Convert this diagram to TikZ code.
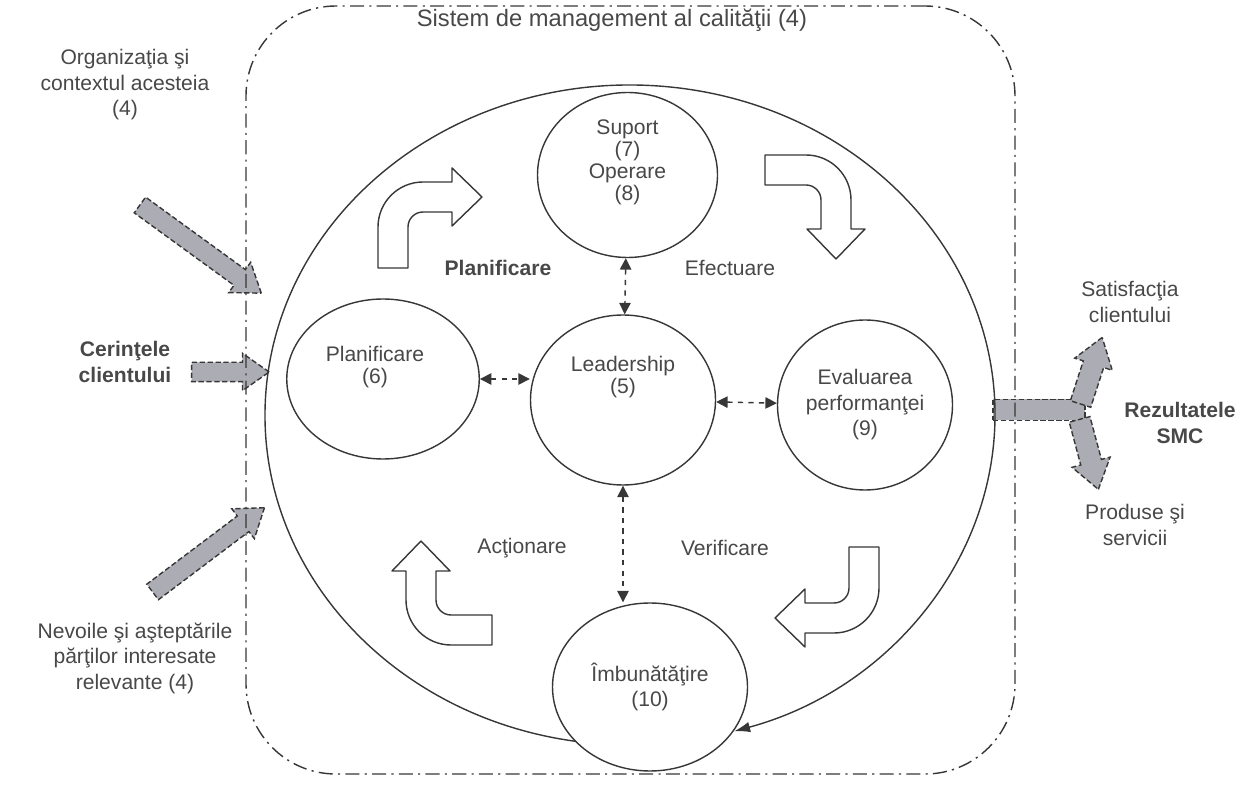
\documentclass[tikz,border=0pt]{standalone}
\usepackage{fontspec}
\setmainfont{Liberation Sans}
\usetikzlibrary{shapes.geometric,shapes.arrows,arrows.meta}

\definecolor{trait}{RGB}{55,55,55}
\definecolor{ecrit}{RGB}{72,72,72}
\definecolor{gris}{RGB}{172,172,180}

% fleche blanche coudee : depart (#1), rotation #2
\newcommand{\coude}[2]{\draw[coude, shift={#1}, rotate=#2] (-0.3,0) -- (-0.3,0.82) arc[start angle=180, end angle=90, radius=0.9] -- (1.18,1.72) -- (1.18,2) -- (1.78,1.42) -- (1.18,0.84) -- (1.18,1.12) -- (0.6,1.12) arc[start angle=90, end angle=180, radius=0.3] -- (0.3,0) -- cycle;}

\begin{document}
\begin{tikzpicture}[font=\fontsize{12}{14.5}\selectfont, text=ecrit]
      \tikzstyle{cercle}=[ellipse, draw=trait, thick, fill=white, inner sep=0pt, align=center]
      \tikzstyle{fleche}=[{Triangle[length=6.5pt,width=6.5pt]}-{Triangle[length=6.5pt,width=6.5pt]}, dashed, thick, draw=trait]
      \tikzstyle{coude}=[draw=trait, thick, fill=white, line join=round]
      \tikzstyle{grosse}=[single arrow, draw=trait, fill=gris, dash pattern=on 3pt off 1.5pt, thick, inner sep=0.18cm, single arrow head extend=0.18cm, single arrow tip angle=70]
      \tikzstyle{tige}=[rectangle, draw=trait, fill=gris, dash pattern=on 3pt off 1.5pt, thick, inner sep=0pt]
      \tikzstyle{cadre}=[rectangle, draw=trait, thick, dash pattern=on 8pt off 3pt on 1.2pt off 3pt, rounded corners=1.8cm]
      \tikzstyle{gras}=[font=\fontsize{12}{14.5}\selectfont\bfseries, align=center]
      \tikzstyle{strans}=[font=\fontsize{12}{12.5}\selectfont, align=center]

      \useasboundingbox (0,0) rectangle (24.88,15.7);
      \coordinate (centre) at (12.6,7.4);

      % intrari si iesiri
      \node[grosse, minimum height=3.0cm, rotate=-36] (f1) at (3.9,10.8) {};
      \node[grosse, minimum height=1.55cm] (f2) at (4.47,8.26) {};
      \node[grosse, minimum height=2.8cm, rotate=37] (f3) at (4.06,4.62) {};
      \node[tige, minimum width=1.84cm, minimum height=0.42cm] (tige) at (20.78,7.5) {};
      \node[grosse, inner sep=0.2cm, minimum height=1.4cm, rotate=72] (f4) at (21.78,8.14) {};
      \node[grosse, inner sep=0.2cm, minimum height=1.45cm, rotate=-75] (f5) at (21.74,6.76) {};

      \node[cadre, minimum width=15.38cm, minimum height=15.36cm] (sys) at (12.61,7.9) {};
      \node[font=\fontsize{13.5}{16}\selectfont] (titre) at (12.24,15.3) {Sistem de management al calităţii (4)};

      % bucla
      \draw[trait, thick, -{Latex[length=9pt,width=6pt]}] (centre) ++(265:7.3cm and 6.6cm) arc[start angle=265, end angle=-73.4, x radius=7.3cm, y radius=6.6cm];

      \node[cercle, minimum width=3.6cm, minimum height=3.3cm] (sup) at (12.55,12.2) {};
      \node[strans] (tsup) at (12.55,12.46) {Suport\\(7)\\Operare\\(8)};
      \node[cercle, minimum width=3.85cm, minimum height=3.2cm] (plan) at (7.66,8.12) {};
      \node[strans] (tplan) at (7.5,8.35) {Planificare\\(6)};
      \node[cercle, minimum width=3.7cm, minimum height=3.4cm] (lead) at (12.46,7.7) {};
      \node[strans] (tlead) at (12.46,8.16) {Leadership\\(5)};
      \node[cercle, minimum width=3.5cm, minimum height=3.4cm] (eval) at (17.3,7.6) {Evaluarea\\performanţei\\(9)};
      \node[cercle, minimum width=3.9cm, minimum height=3.36cm] (imb) at (13.0,1.96) {Îmbunătăţire\\(10)};

      \draw[fleche] (sup) -- (lead);
      \draw[fleche] (plan.east) -- (plan.east -| lead.west);
      \draw[fleche] (lead) -- (eval);
      \draw[fleche] (lead.south) -- (imb.north -| lead.south);

      \coude{(7.86,10.34)}{0}
      \coude{(15.3,12.3)}{-90}
      \coude{(17.28,4.76)}{180}
      \coude{(9.84,3.1)}{90}

      \node[gras] (etplan) at (9.96,10.34) {Planificare};
      \node (etef) at (14.6,10.34) {Efectuare};
      \node (etact) at (10.44,4.74) {Acţionare};
      \node (etver) at (14.5,4.74) {Verificare};

      \node[align=center] (org) at (2.5,14.0) {Organizaţia şi\\contextul acesteia\\(4)};
      \node[gras] (cer) at (2.5,8.46) {Cerinţele\\clientului};
      \node[align=center] (nev) at (2.7,2.54) {Nevoile şi aşteptările\\părţilor interesate\\relevante (4)};
      \node[align=center] (sat) at (22.6,9.66) {Satisfacţia\\clientului};
      \node[gras] (rez) at (23.6,7.24) {Rezultatele\\SMC};
      \node[align=center] (prod) at (22.7,5.2) {Produse şi\\servicii};
    \end{tikzpicture}
\end{document}
